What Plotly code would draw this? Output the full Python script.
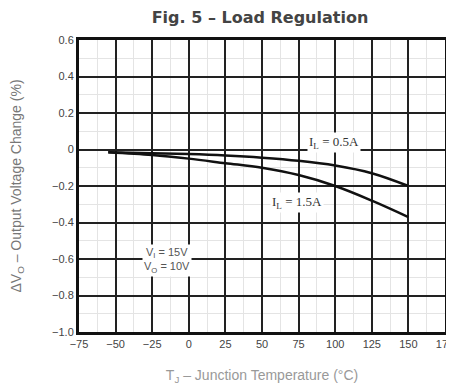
import plotly.graph_objects as go

temp_c = [-55, -25, 0, 25, 50, 75, 100, 125, 150]
dv_05a = [-0.015, -0.02, -0.025, -0.033, -0.045, -0.062, -0.088, -0.13, -0.2]
dv_15a = [-0.015, -0.03, -0.05, -0.075, -0.1, -0.14, -0.2, -0.28, -0.37]

x_ticks = [-75, -50, -25, 0, 25, 50, 75, 100, 125, 150, 175]
x_tick_text = ["\u221275", "\u221250", "\u221225", "0", "25", "50", "75", "100", "125", "150", "175"]
y_ticks = [0.6, 0.4, 0.2, 0, -0.2, -0.4, -0.6, -0.8, -1.0]
y_tick_text = ["0.6", "0.4", "0.2", "0", "\u22120.2", "\u22120.4", "\u22120.6", "\u22120.8", "\u22121.0"]

fig = go.Figure()
fig.add_trace(go.Scatter(x=temp_c, y=dv_05a, mode="lines", line=dict(color="#111", width=2.5, shape="spline"), showlegend=False))
fig.add_trace(go.Scatter(x=temp_c, y=dv_15a, mode="lines", line=dict(color="#111", width=2.5, shape="spline"), showlegend=False))

ann_font = dict(family="Liberation Serif", size=13, color="#333")
fig.add_annotation(x=99, y=0.036, text="I<sub>L</sub> = 0.5A", showarrow=False, font=ann_font, bgcolor="white")
fig.add_annotation(x=74, y=-0.293, text="I<sub>L</sub> = 1.5A", showarrow=False, font=ann_font, bgcolor="white")
fig.add_annotation(x=-15, y=-0.61, text="V<sub>I</sub> = 15V<br>V<sub>O</sub> = 10V", showarrow=False,
                   font=dict(family="Liberation Sans", size=11, color="#555"), bgcolor="white")

fig.update_layout(
    width=446, height=377,
    margin=dict(l=71, r=9, t=32, b=53),
    paper_bgcolor="white", plot_bgcolor="white",
    title=dict(text="<b>Fig. 5 \u2013 Load Regulation</b>", x=0.565, xanchor="center", y=0.975, yanchor="middle",
               font=dict(family="DejaVu Sans", size=16, color="#444")),
    font=dict(family="Liberation Sans", size=11, color="#444"),
    xaxis=dict(range=[-75, 175], tickvals=x_ticks, ticktext=x_tick_text, showgrid=True,
               gridcolor="#222", gridwidth=2, zeroline=False, showline=True, linecolor="#111", linewidth=3,
               mirror=True, ticks="", ticklen=0, automargin=False, ticklabeloverflow="allow",
               minor=dict(dtick=12.5, showgrid=True, gridcolor="#e4e4e4", gridwidth=1),
               title=dict(text="T<sub>J</sub> \u2013 Junction Temperature (\u00b0C)", standoff=22,
                          font=dict(size=14, color="#999"))),
    yaxis=dict(range=[-1.0, 0.6], tickvals=y_ticks, ticktext=y_tick_text, showgrid=True,
               gridcolor="#222", gridwidth=2, zeroline=False, showline=True, linecolor="#111", linewidth=3,
               mirror=True, ticks="", ticklen=0, automargin=False,
               minor=dict(dtick=0.1, showgrid=True, gridcolor="#e4e4e4", gridwidth=1),
               title=dict(text="\u0394V<sub>O</sub> \u2013 Output Voltage Change (%)", standoff=30,
                          font=dict(size=14, color="#777"))),
)

fig.write_html("out.html")
